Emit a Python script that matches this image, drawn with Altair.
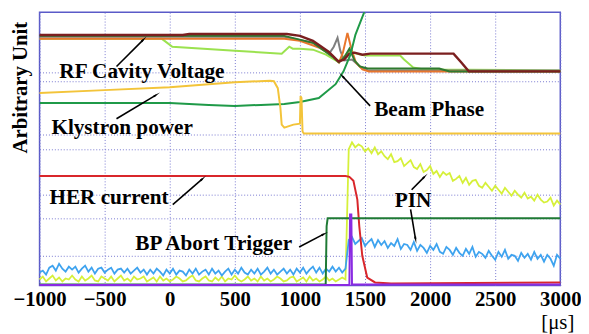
import math
import altair as alt
import pandas as pd

FONT = "Liberation Serif"

# ---------------- axes ----------------
x_ticks = [-1000, -500, 0, 500, 1000, 1500, 2000, 2500, 3000]
y_grid = [30, 68, 92, 138, 153, 207, 216]
X_DOMAIN = [-1000, 3000]
Y_DOMAIN = [0, 277]

# ---------------- RF cavity voltage traces (time in us, arbitrary units) ----------------
rf_brown_t = [-1000, 100, 150, 900, 1000, 1100, 1220, 1297, 1340, 1380, 1420, 1480, 1540, 2180, 2240, 2297, 3000]
rf_brown_u = [254, 254, 255, 255, 253, 248, 237, 227, 229, 235, 236, 234, 235, 235, 226, 217, 217]

rf_orange_t = [-1000, 880, 1000, 1150, 1250, 1300, 1330, 1365, 1395, 1430, 1480, 1530, 3000]
rf_orange_u = [250, 250, 248, 241, 233, 226, 236, 256, 240, 226, 219, 217, 217]

rf_gray_t = [-1000, 880, 1100, 1230, 1260, 1289, 1310, 1340, 1400, 1460, 1520, 3000]
rf_gray_u = [252, 252, 246, 236, 242, 251, 238, 228, 229, 222, 218, 218]

rf_lgreen_t = [-1000, -60, 20, 500, 860, 918, 945, 1000, 1100, 1200, 1290, 1340, 1380, 1430, 1500, 1770, 1800, 1870, 1950, 3000]
rf_lgreen_u = [250, 250, 242, 238, 235, 242, 240, 240, 239, 234, 227, 232, 238, 235, 233, 233, 229, 221, 219, 218]

rf_dgreen_t = [-1000, 880, 1100, 1250, 1300, 1340, 1380, 1420, 1460, 1520, 2070, 2150, 3000]
rf_dgreen_u = [253, 253, 246, 232, 226, 231, 240, 228, 222, 220, 220, 217, 217]

# ---------------- beam phase ----------------
beam_t = [-1000, 0, 300, 500, 700, 880, 1000, 1145, 1274, 1335, 1388, 1426, 1464, 1494, 1520]
beam_u = [185, 185, 183, 182, 183, 184, 186, 190, 204, 217, 234, 254, 267, 277, 290]

# ---------------- klystron power ----------------
kly_t = [-1000, -500, 0, 500, 770, 800, 830, 850, 860, 880, 950, 1000, 1005, 1012, 1020, 1030, 3000]
kly_u = [195, 198, 201, 206, 207.5, 207, 200, 180, 163, 160, 163, 164, 192, 190, 156, 154, 154]

# ---------------- HER current ----------------
her_t = [-1000, 1350, 1380, 1411, 1441, 1456, 1479, 1517, 1577, 1700, 3000]
her_u = [111, 111, 110, 106, 87, 60, 30, 8, 3, 2, 3]

# ---------------- BP abort trigger ----------------
bp_t = [-1000, 1198, 1205, 1213, 3000]
bp_u = [1, 1, 60, 68, 68]

# ---------------- purple trace ----------------
pur_t = [-1000, 1380, 1385, 1395, 1400, 3000]
pur_u = [0.5, 0.5, 72, 72, 1, 1]

# ---------------- PIN (blue), sampled every 25 us ----------------
pin_blue_base = [
    13, 15, 11, 18, 20, 15, 22, 17, 14, 19,
    16, 19, 13, 17, 20, 14, 18, 12, 17, 18,
    13, 16, 18, 12, 16, 17, 13, 17, 12, 15,
    18, 13, 16, 11, 16, 12, 17, 14, 10, 16,
    12, 17, 11, 15, 14, 10, 16, 12, 17, 11,
    14, 16, 11, 17, 12, 15, 10, 14, 17, 11,
    16, 12, 18, 13, 11, 16, 12, 17, 11, 14,
    18, 12, 16, 11, 14, 17, 12, 16, 11, 17,
    13, 18, 12, 16, 19, 13, 18, 12, 17, 14,
    19, 14, 18, 13, 17,
]
pin_blue_tail = [
    46,
    49, 42, 45, 48, 40, 44, 47, 39, 46, 41,
    45, 38, 43, 40, 47, 37, 42, 41, 36, 44,
    35, 41, 38, 33, 40, 36, 42, 34, 32, 39,
    36, 31, 38, 33, 30, 37, 32, 39, 29, 34,
    32, 28, 35, 30, 26, 34, 29, 36, 27, 31,
    30, 25, 33, 28, 32, 26, 34, 27, 31, 24,
    31, 27, 20, 31, 27,
]

# ---------------- PIN (yellow), sampled every 25 us ----------------
pin_yel_base = [
    6, 9, 4, 7, 10, 5, 8, 4, 7, 6,
    10, 6, 4, 9, 5, 7, 10, 5, 4, 9,
    7, 5, 9, 4, 7, 10, 5, 7, 4, 9,
    6, 7, 9, 4, 6, 8, 4, 9, 5, 7,
    4, 6, 9, 7, 4, 5, 8, 10, 5, 4,
    7, 9, 5, 4, 8, 5, 9, 4, 7, 6,
    10, 6, 4, 6, 9, 5, 7, 4, 9, 5,
    7, 4, 6, 9, 7, 4, 5, 8, 9, 4,
    6, 8, 4, 9, 5, 7, 4, 6, 9, 5,
    7, 4, 6, 8, 6,
]
pin_yel_tail = [
    138,
    145, 140, 143, 141, 136, 139, 134, 140, 133, 136,
    131, 128, 133, 125, 126, 129, 121, 124, 127, 120,
    118, 123, 115, 117, 121, 113, 116, 110, 115, 112,
    114, 106, 108, 111, 104, 109, 102, 106, 107, 101,
    99, 104, 100, 96, 101, 97, 93, 99, 95, 91,
    96, 92, 89, 94, 88, 90, 86, 92, 87, 84,
    85, 89, 81, 86, 82,
]
base_t = list(range(-1000, 1351, 25))
tail_t = list(range(1375, 3001, 25))

# ---------------- annotations ----------------
ann_text = ["RF Cavity Voltage", "Klystron power", "Beam Phase", "HER current", "BP Abort Trigger", "PIN"]
ann_t = [-848, -909, 1570, -924, -265, 1729]
ann_u = [210, 154, 172, 83, 36, 79]

arrow_t0 = [-409, -409, 1539, 23, 994, 1858, 1850]
arrow_u0 = [222, 169, 182, 82, 39, 97, 77]
arrow_t1 = [-204, -106, 1327, 251, 1183, 1956, 1888]
arrow_u1 = [249, 193, 212, 108, 52, 110, 47]

W, H = 528, 277
PX_PER_T = W / (X_DOMAIN[1] - X_DOMAIN[0])
PX_PER_U = H / (Y_DOMAIN[1] - Y_DOMAIN[0])

xscale = alt.Scale(domain=X_DOMAIN, nice=False, zero=False)
yscale = alt.Scale(domain=Y_DOMAIN, nice=False, zero=False)

xaxis = alt.Axis(values=x_ticks, format="d", grid=True, gridDash=[1, 2], gridColor="#7878d0", gridWidth=1,
                 domain=False, ticks=False, labelFont=FONT, labelFontSize=21, labelFontWeight="bold",
                 labelColor="black", labelPadding=3, labelFlush=False, labelOverlap=False,
                 title="[μs]", titleFont=FONT, titleFontSize=21, titleFontWeight="normal",
                 titleColor="black", titleX=525, titleY=44, titleAlign="center",
                 titleBaseline="alphabetic")
yaxis = alt.Axis(values=y_grid, grid=True, gridDash=[1, 2], gridColor="#7878d0", gridWidth=1,
                 domain=False, ticks=False, labels=False,
                 title="Arbitrary Unit", titleFont=FONT, titleFontSize=21, titleFontWeight="bold",
                 titleColor="black", titleAngle=270, titleX=-19, titleY=76, titleAlign="center",
                 titleBaseline="middle")


def X(field):
    return alt.X(field, type="quantitative", scale=xscale, axis=xaxis)


def Y(field):
    return alt.Y(field, type="quantitative", scale=yscale, axis=yaxis)


def line(t, u, color, width=2.0, clip=False):
    df = pd.DataFrame({"t": t, "u": u})
    return alt.Chart(df).mark_line(color=color, strokeWidth=width, clip=clip).encode(
        x=X("t"), y=Y("u"), order=alt.Order("idx:Q")
    ).transform_window(idx="row_number()")


layers = [
    line(rf_lgreen_t, rf_lgreen_u, "#9be24f", 2),
    line(rf_gray_t, rf_gray_u, "#7f7f7f", 2),
    line(rf_orange_t, rf_orange_u, "#e8762c", 2),
    line(rf_dgreen_t, rf_dgreen_u, "#2f7a2f", 2),
    line(rf_brown_t, rf_brown_u, "#7b1f1f", 2.5),
    line(beam_t, beam_u, "#1f9a48", 2, clip=True),
    line(kly_t, kly_u, "#f3c43a", 2),
    line(base_t + tail_t, pin_yel_base + pin_yel_tail, "#d6f03a", 1.8),
    line(base_t + tail_t, pin_blue_base + pin_blue_tail, "#3ea3ef", 1.8),
    line(her_t, her_u, "#d9262b", 2),
    line(bp_t, bp_u, "#1f7a35", 2),
    line(pur_t, pur_u, "#8a2be2", 2),
]

# arrows
angles = []
for a, b, c, d in zip(arrow_t0, arrow_u0, arrow_t1, arrow_u1):
    dx = (c - a) * PX_PER_T
    dy = -(d - b) * PX_PER_U
    angles.append((math.degrees(math.atan2(dx, -dy)) + 360) % 360)
arr_df = pd.DataFrame({"t0": arrow_t0, "u0": arrow_u0, "t1": arrow_t1, "u1": arrow_u1, "ang": angles})

layers.append(
    alt.Chart(arr_df).mark_rule(color="black", strokeWidth=1.6).encode(
        x=X("t0"), y=Y("u0"), x2="t1", y2="u1")
)
layers.append(
    alt.Chart(arr_df).mark_point(shape="wedge", filled=True, size=70, color="black", opacity=1).encode(
        x=X("t1"), y=Y("u1"), angle=alt.Angle("ang:Q", scale=None))
)

ann_df = pd.DataFrame({"label": ann_text, "t": ann_t, "u": ann_u})
layers.append(
    alt.Chart(ann_df).mark_text(font=FONT, fontSize=21.5, fontWeight="bold", color="black",
                                align="left", baseline="alphabetic").encode(
        x=X("t"), y=Y("u"), text="label:N")
)

chart = alt.layer(*layers).properties(
    width=W, height=H,
    padding={"left": 32, "top": 2, "right": 21, "bottom": 47},
    autosize=alt.AutoSizeParams(type="none"),
    background="white",
).configure_view(stroke="#5a5ac8", strokeWidth=1.5)

chart.save("out.html", embed_options={"renderer": "svg", "actions": False})
